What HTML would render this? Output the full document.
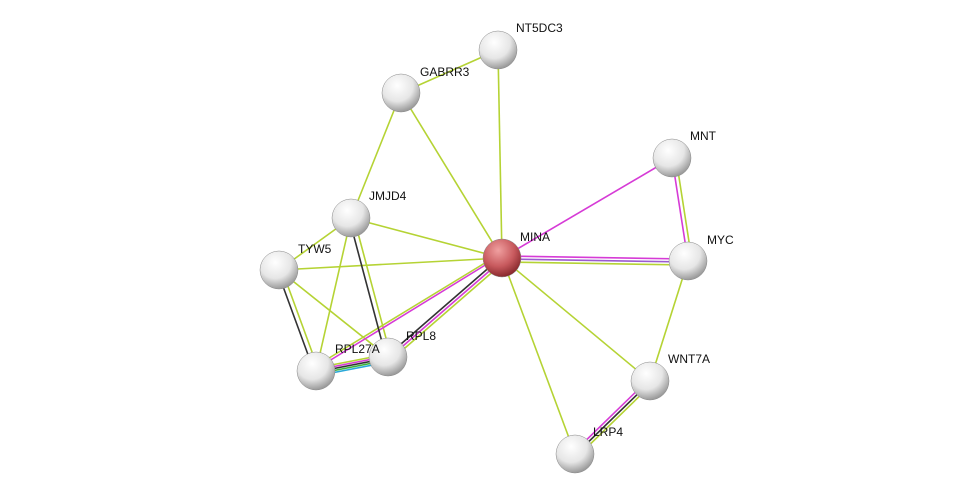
<!DOCTYPE html>
<html><head><style>body{margin:0;background:#fff}svg{display:block}text{font-family:"Liberation Sans",Arial,sans-serif;font-size:12px;fill:#111}</style></head>
<body>
<svg width="976" height="499" viewBox="0 0 976 499" xmlns="http://www.w3.org/2000/svg">
<defs>
<radialGradient id="g" cx="0.4" cy="0.3" r="0.7"><stop offset="0" stop-color="#fff"/><stop offset="0.6" stop-color="#e6e6e6"/><stop offset="1" stop-color="#9a9a9a"/></radialGradient>
<radialGradient id="r" cx="0.4" cy="0.3" r="0.7"><stop offset="0" stop-color="#f0a0a0"/><stop offset="0.6" stop-color="#c85a5e"/><stop offset="1" stop-color="#8a2a2e"/></radialGradient>
</defs>
<g stroke-width="1.6" fill="none">
<g stroke="#b5d334">
<line x1="498" y1="50" x2="401" y2="93"/>
<line x1="498" y1="50" x2="502" y2="258"/>
<line x1="401" y1="93" x2="502" y2="258"/>
<line x1="401" y1="93" x2="351" y2="218"/>
<line x1="351" y1="218" x2="502" y2="258"/>
<line x1="351" y1="218" x2="279" y2="270"/>
<line x1="351" y1="218" x2="316" y2="371"/>
<line x1="354" y1="218" x2="391" y2="357"/>
<line x1="502" y1="258" x2="279" y2="270"/>
<line x1="502" y1="262" x2="688" y2="265"/>
<line x1="502" y1="258" x2="650" y2="381"/>
<line x1="502" y1="258" x2="575" y2="454"/>
<line x1="688" y1="261" x2="650" y2="381"/>
<line x1="676" y1="158" x2="692" y2="261"/>
<line x1="279" y1="270" x2="388" y2="357"/>
<line x1="282" y1="270" x2="319" y2="371"/>
<line x1="504" y1="262" x2="390" y2="361"/>
<line x1="498" y1="255" x2="316" y2="366"/>
<line x1="316" y1="368" x2="388" y2="354"/>
<line x1="652" y1="384" x2="577" y2="457"/>
</g>
<line stroke="#d63bd6" x1="502" y1="258" x2="672" y2="158"/>
<line stroke="#d63bd6" x1="672" y1="158" x2="688" y2="261"/>
<line stroke="#d63bd6" x1="502" y1="256" x2="688" y2="259"/>
<line stroke="#9c5bd0" x1="502" y1="259" x2="688" y2="262"/>
<line stroke="#d63bd6" x1="500" y1="256" x2="316" y2="369"/>
<line stroke="#d63bd6" x1="502" y1="260" x2="388" y2="359"/>
<line stroke="#333" x1="500" y1="258" x2="386" y2="357"/>
<line stroke="#333" x1="349" y1="218" x2="386" y2="357"/>
<line stroke="#333" x1="277" y1="270" x2="314" y2="371"/>
<line stroke="#d63bd6" x1="316" y1="370" x2="388" y2="356"/>
<line stroke="#333" x1="316" y1="372" x2="388" y2="358"/>
<line stroke="#3cb43c" x1="316" y1="374" x2="388" y2="360"/>
<line stroke="#2aa8d8" x1="316" y1="376" x2="388" y2="362"/>
<line stroke="#d63bd6" x1="648" y1="380" x2="573" y2="453"/>
<line stroke="#333" x1="650" y1="382" x2="575" y2="455"/>
</g>
<g stroke="#888" stroke-width="0.5">
<circle cx="498" cy="50" r="19" fill="url(#g)"/>
<circle cx="401" cy="93" r="19" fill="url(#g)"/>
<circle cx="672" cy="158" r="19" fill="url(#g)"/>
<circle cx="351" cy="218" r="19" fill="url(#g)"/>
<circle cx="688" cy="261" r="19" fill="url(#g)"/>
<circle cx="279" cy="270" r="19" fill="url(#g)"/>
<circle cx="316" cy="371" r="19" fill="url(#g)"/>
<circle cx="388" cy="357" r="19" fill="url(#g)"/>
<circle cx="650" cy="381" r="19" fill="url(#g)"/>
<circle cx="575" cy="454" r="19" fill="url(#g)"/>
<circle cx="502" cy="258" r="19" fill="url(#r)"/>
</g>
<text x="516" y="32">NT5DC3</text>
<text x="420" y="76">GABRR3</text>
<text x="690" y="140">MNT</text>
<text x="369" y="200">JMJD4</text>
<text x="520" y="241">MINA</text>
<text x="707" y="244">MYC</text>
<text x="298" y="253">TYW5</text>
<text x="335" y="353">RPL27A</text>
<text x="406" y="340">RPL8</text>
<text x="668" y="363">WNT7A</text>
<text x="593" y="436">LRP4</text>
</svg>
</body></html>
